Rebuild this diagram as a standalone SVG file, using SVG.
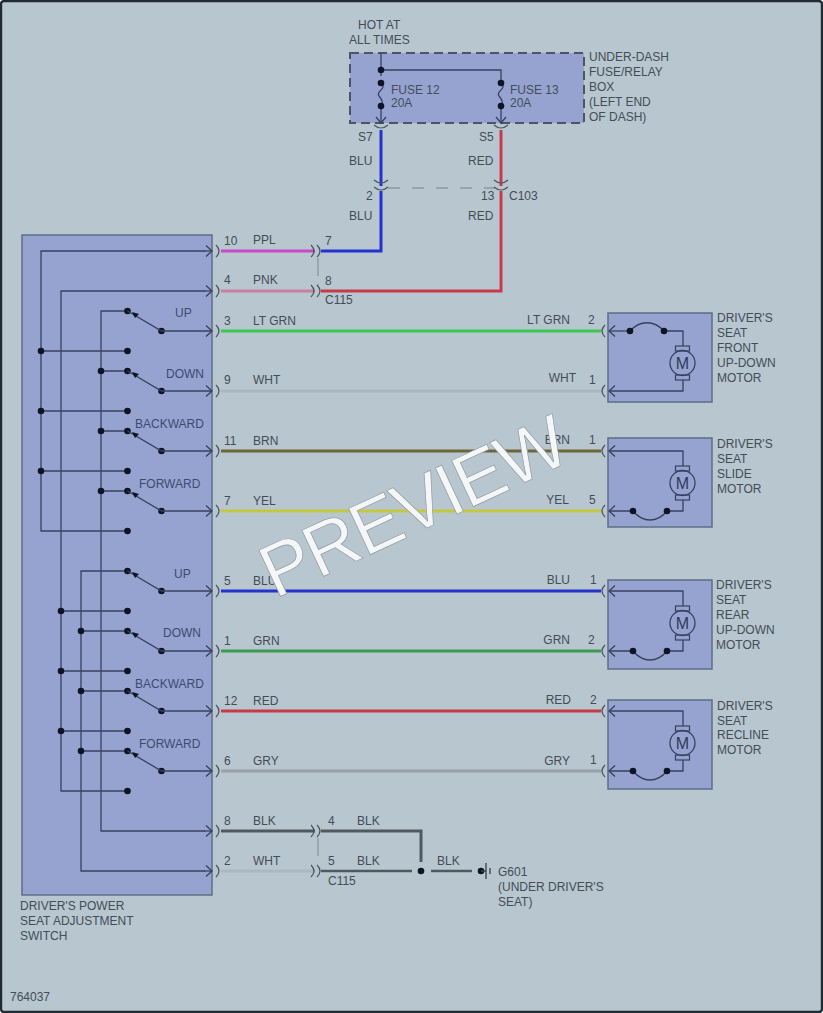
<svg xmlns="http://www.w3.org/2000/svg" xmlns:xlink="http://www.w3.org/1999/xlink" width="823" height="1013" viewBox="0 0 823 1013">
<style>
text{font-family:"Liberation Sans",Arial,sans-serif;font-size:12px;fill:#434d56}
.in text,text.in{fill:#3d4a70}
.box{fill:#96a3d0;stroke:#5f6d88;stroke-width:1.5}
.ln{fill:none;stroke:#37415f;stroke-width:1.3}
.dot{fill:#0e1424}
.w{fill:none;stroke-width:3}
.c{fill:none;stroke:#4a5560;stroke-width:1.2}
.end{text-anchor:end}
</style>
<defs>
<marker id="ah" markerUnits="userSpaceOnUse" markerWidth="10" markerHeight="12" refX="8" refY="6" orient="auto"><path d="M2,0.5L8,6L2,11.5" fill="none" stroke="#37415f" stroke-width="1.3"/></marker>
<circle id="d" r="3.3" class="dot"/>
<path id="cr" d="M-3,-6Q3,0 -3,6" class="c"/>
<path id="cl" d="M3,-6Q-3,0 3,6" class="c"/>
<path id="cd" d="M-7,-3Q0,3 7,-3" class="c"/>
<g id="sw"><use xlink:href="#d" x="127.5" y="-20"/><use xlink:href="#d" x="161.5"/><path d="M127.5,-20L161.5,0L212,0" class="ln" marker-end="url(#ah)"/><path d="M132,-19L139,-17L135,-13Z" class="dot"/></g>
<g id="motor"><circle r="12.5" fill="none" stroke="#37415f" stroke-width="1.3"/><rect x="-7" y="-17" width="14" height="5" fill="none" stroke="#37415f" stroke-width="1.2"/><rect x="-7" y="12" width="14" height="5" fill="none" stroke="#37415f" stroke-width="1.2"/><text x="0" y="5.5" text-anchor="middle" style="font-size:16px;fill:#2f3a58">M</text></g>
</defs>
<rect x="1" y="1" width="821" height="1011" rx="3" fill="#b8c6d0" stroke="#1f2a33" stroke-width="2.4"/>

<g id="fuse-box">
<rect x="350" y="53" width="234" height="70" fill="#96a3d0" stroke="#4b5566" stroke-width="2" stroke-dasharray="9 5"/>
<path d="M381,53V76M381,70H501V83M381,106V124M501,106V124M381,83C388,89 375,91 379,96C381,99 384,101 381,106M501,83C508,89 495,91 499,96C501,99 504,101 501,106" class="ln"/>
<path d="M376,117L381,123L386,117M496,117L501,123L506,117" class="ln"/>
<use xlink:href="#d" x="381" y="70"/><use xlink:href="#d" x="381" y="83"/><use xlink:href="#d" x="381" y="106"/><use xlink:href="#d" x="501" y="83"/><use xlink:href="#d" x="501" y="106"/>
<text x="391" y="94">FUSE 12</text><text x="391" y="107">20A</text><text x="510" y="94">FUSE 13</text><text x="510" y="107">20A</text>
<text x="358" y="29">HOT AT</text><text x="349" y="44">ALL TIMES</text>
<text x="589" y="61">UNDER-DASH</text><text x="589" y="76">FUSE/RELAY</text><text x="589" y="91">BOX</text><text x="589" y="106">(LEFT END</text><text x="589" y="121">OF DASH)</text>
</g>

<g id="connectors">
<path d="M381,130V186M381,191V251H321" class="w" stroke="#2433d0"/>
<path d="M501,130V186M501,191V291H321" class="w" stroke="#c83a48"/>
<path d="M221,251H315" class="w" stroke="#c848c8"/>
<path d="M221,291H315" class="w" stroke="#c8809c"/>
<path d="M221,331H601" class="w" stroke="#3cc850"/>
<path d="M221,391H601" class="w" stroke="#aab6bd"/>
<path d="M221,451H601" class="w" stroke="#6e6638"/>
<path d="M221,511H601" class="w" stroke="#c4c83e"/>
<path d="M221,591H601" class="w" stroke="#2433d0"/>
<path d="M221,651H601" class="w" stroke="#3e9a50"/>
<path d="M221,711H601" class="w" stroke="#c83a48"/>
<path d="M221,771H601" class="w" stroke="#98a2a8"/>
<path d="M221,831H315" class="w" stroke="#4f5a5f"/>
<path d="M321,831H421V862" class="w" stroke="#4f5a5f"/>
<path d="M221,871H315" class="w" stroke="#acb8bf"/>
<path d="M321,871H412" class="w" stroke="#4f5a5f" style="stroke-width:2.4"/>
<path d="M431,871H472" class="w" stroke="#4f5a5f" style="stroke-width:2.4"/>
<path d="M388,188H495" fill="none" stroke="#8d999f" stroke-width="1.3" stroke-dasharray="12 12"/>
<path d="M318,258V285M318,838V864" fill="none" stroke="#8d999f" stroke-width="1.3" stroke-dasharray="18 8"/>
<use xlink:href="#cd" x="381" y="128"/><use xlink:href="#cd" x="501" y="128"/><use xlink:href="#cd" x="381" y="183"/><use xlink:href="#cd" x="501" y="183"/><use xlink:href="#cd" x="381" y="190"/><use xlink:href="#cd" x="501" y="190"/>
<use xlink:href="#cr" x="219" y="251"/><use xlink:href="#cr" x="219" y="291"/><use xlink:href="#cr" x="219" y="331"/><use xlink:href="#cr" x="219" y="391"/><use xlink:href="#cr" x="219" y="451"/><use xlink:href="#cr" x="219" y="511"/><use xlink:href="#cr" x="219" y="591"/><use xlink:href="#cr" x="219" y="651"/><use xlink:href="#cr" x="219" y="711"/><use xlink:href="#cr" x="219" y="771"/><use xlink:href="#cr" x="219" y="831"/><use xlink:href="#cr" x="219" y="871"/>
<use xlink:href="#cr" x="314" y="251"/><use xlink:href="#cr" x="320" y="251"/><use xlink:href="#cr" x="314" y="291"/><use xlink:href="#cr" x="320" y="291"/><use xlink:href="#cr" x="314" y="831"/><use xlink:href="#cr" x="320" y="831"/><use xlink:href="#cr" x="314" y="871"/><use xlink:href="#cr" x="320" y="871"/>
<use xlink:href="#cl" x="602" y="331"/><use xlink:href="#cl" x="602" y="391"/><use xlink:href="#cl" x="602" y="451"/><use xlink:href="#cl" x="602" y="511"/><use xlink:href="#cl" x="602" y="591"/><use xlink:href="#cl" x="602" y="651"/><use xlink:href="#cl" x="602" y="711"/><use xlink:href="#cl" x="602" y="771"/>
</g>

<g id="wire-labels">
<text x="358" y="141">S7</text><text x="479" y="141">S5</text><text x="349" y="165">BLU</text><text x="468" y="165">RED</text>
<text x="366" y="200">2</text><text x="481" y="200">13</text><text x="509" y="200">C103</text><text x="349" y="220">BLU</text><text x="468" y="220">RED</text>
<text x="224" y="245">10</text><text x="253" y="244">PPL</text><text x="325" y="245">7</text>
<text x="224" y="284">4</text><text x="253" y="284">PNK</text><text x="325" y="285">8</text><text x="325" y="304">C115</text>
<text x="224" y="325">3</text><text x="253" y="325">LT GRN</text><text class="end" x="570" y="324">LT GRN</text><text x="588" y="324">2</text>
<text x="224" y="384">9</text><text x="253" y="384">WHT</text><text class="end" x="576" y="382">WHT</text><text x="589" y="384">1</text>
<text x="224" y="445">11</text><text x="253" y="445">BRN</text><text class="end" x="570" y="444">BRN</text><text x="589" y="444">1</text>
<text x="224" y="505">7</text><text x="253" y="505">YEL</text><text class="end" x="569" y="504">YEL</text><text x="589" y="504">5</text>
<text x="224" y="585">5</text><text x="253" y="585">BLU</text><text class="end" x="570" y="584">BLU</text><text x="590" y="584">1</text>
<text x="224" y="645">1</text><text x="253" y="645">GRN</text><text class="end" x="570" y="644">GRN</text><text x="588" y="644">2</text>
<text x="224" y="705">12</text><text x="253" y="705">RED</text><text class="end" x="571" y="704">RED</text><text x="590" y="704">2</text>
<text x="224" y="765">6</text><text x="253" y="765">GRY</text><text class="end" x="570" y="765">GRY</text><text x="590" y="764">1</text>
<text x="224" y="825">8</text><text x="253" y="825">BLK</text><text x="328" y="825">4</text><text x="357" y="825">BLK</text>
<text x="224" y="865">2</text><text x="253" y="865">WHT</text><text x="328" y="865">5</text><text x="357" y="865">BLK</text><text x="328" y="885">C115</text><text x="437" y="865">BLK</text>
</g>

<g id="switch">
<rect x="22" y="235" width="190" height="660" class="box"/>
<path d="M205,251H41V531H127M205,291H61V791H127M127,311H101V831H205M127,571H81V871H205M41,351H127M41,411H127M41,471H127M61,611H127M61,671H127M61,731H127M101,371H127M101,431H127M101,491H127M81,631H127M81,691H127M81,751H127" class="ln"/>
<path d="M204,251H212" class="ln" marker-end="url(#ah)"/><path d="M204,291H212" class="ln" marker-end="url(#ah)"/><path d="M204,831H212" class="ln" marker-end="url(#ah)"/><path d="M204,871H212" class="ln" marker-end="url(#ah)"/>
<use xlink:href="#sw" y="331"/><use xlink:href="#sw" y="391"/><use xlink:href="#sw" y="451"/><use xlink:href="#sw" y="511"/><use xlink:href="#sw" y="591"/><use xlink:href="#sw" y="651"/><use xlink:href="#sw" y="711"/><use xlink:href="#sw" y="771"/>
<use xlink:href="#d" x="127.5" y="351"/><use xlink:href="#d" x="127.5" y="411"/><use xlink:href="#d" x="127.5" y="471"/><use xlink:href="#d" x="127.5" y="531"/><use xlink:href="#d" x="127.5" y="611"/><use xlink:href="#d" x="127.5" y="671"/><use xlink:href="#d" x="127.5" y="731"/><use xlink:href="#d" x="127.5" y="791"/>
<use xlink:href="#d" x="41" y="351"/><use xlink:href="#d" x="41" y="411"/><use xlink:href="#d" x="41" y="471"/><use xlink:href="#d" x="61" y="611"/><use xlink:href="#d" x="61" y="671"/><use xlink:href="#d" x="61" y="731"/>
<use xlink:href="#d" x="101" y="371"/><use xlink:href="#d" x="101" y="431"/><use xlink:href="#d" x="101" y="491"/><use xlink:href="#d" x="81" y="631"/><use xlink:href="#d" x="81" y="691"/><use xlink:href="#d" x="81" y="751"/>
<g class="in"><text x="175" y="317">UP</text><text x="166" y="378">DOWN</text><text x="135" y="428">BACKWARD</text><text x="139" y="488">FORWARD</text><text x="174" y="578">UP</text><text x="163" y="637">DOWN</text><text x="135" y="688">BACKWARD</text><text x="139" y="748">FORWARD</text></g>
<text x="20" y="910">DRIVER'S POWER</text><text x="20" y="925">SEAT ADJUSTMENT</text><text x="20" y="940">SWITCH</text>
</g>

<g id="motor-front">
<rect x="608" y="313" width="104" height="89" class="box"/>
<path d="M630,331C640,320 654,320 664,331H683V346M683,380V391H609" class="ln" marker-end="url(#ah)"/>
<path d="M630,331H609" class="ln" marker-end="url(#ah)"/>
<use xlink:href="#d" x="630" y="331"/><use xlink:href="#d" x="664" y="331"/><use xlink:href="#motor" x="682.5" y="363"/>
<text x="717" y="322">DRIVER'S</text><text x="717" y="337">SEAT</text><text x="717" y="352">FRONT</text><text x="717" y="367">UP-DOWN</text><text x="717" y="382">MOTOR</text>
</g>
<g id="motor-slide">
<rect x="608" y="438" width="104" height="89" class="box"/>
<path d="M683,466V451H609" class="ln" marker-end="url(#ah)"/>
<path d="M683,500V511H667C657,523 643,523 633,511H609" class="ln" marker-end="url(#ah)"/>
<use xlink:href="#d" x="633" y="511"/><use xlink:href="#d" x="667" y="511"/><use xlink:href="#motor" x="682.5" y="483"/>
<text x="717" y="448">DRIVER'S</text><text x="717" y="463">SEAT</text><text x="717" y="478">SLIDE</text><text x="717" y="493">MOTOR</text>
</g>
<g id="motor-rear">
<rect x="608" y="580" width="104" height="89" class="box"/>
<path d="M683,606V591H609" class="ln" marker-end="url(#ah)"/>
<path d="M683,640V651H667C657,663 643,663 633,651H609" class="ln" marker-end="url(#ah)"/>
<use xlink:href="#d" x="633" y="651"/><use xlink:href="#d" x="667" y="651"/><use xlink:href="#motor" x="682.5" y="623"/>
<text x="716" y="589">DRIVER'S</text><text x="716" y="604">SEAT</text><text x="716" y="619">REAR</text><text x="716" y="634">UP-DOWN</text><text x="716" y="649">MOTOR</text>
</g>
<g id="motor-recline">
<rect x="608" y="700" width="104" height="89" class="box"/>
<path d="M683,726V711H609" class="ln" marker-end="url(#ah)"/>
<path d="M683,760V771H667C657,783 643,783 633,771H609" class="ln" marker-end="url(#ah)"/>
<use xlink:href="#d" x="633" y="771"/><use xlink:href="#d" x="667" y="771"/><use xlink:href="#motor" x="682.5" y="743"/>
<text x="717" y="710">DRIVER'S</text><text x="717" y="725">SEAT</text><text x="717" y="739">RECLINE</text><text x="717" y="754">MOTOR</text>
</g>

<g id="ground">
<use xlink:href="#d" x="421" y="871"/><use xlink:href="#d" x="481" y="871"/>
<path d="M481,871H486M486,863V879M490,868V874" fill="none" stroke="#37414a" stroke-width="1.3"/>
<text x="498" y="876">G601</text><text x="498" y="891">(UNDER DRIVER'S</text><text x="498" y="906">SEAT)</text>
</g>

<text x="10" y="1001">764037</text>
<text transform="translate(275,599) rotate(-25)" textLength="330" style="font-size:74px;fill:#f4f6f7;stroke:#8f9ba3;stroke-width:.7">PREVIEW</text>
</svg>
